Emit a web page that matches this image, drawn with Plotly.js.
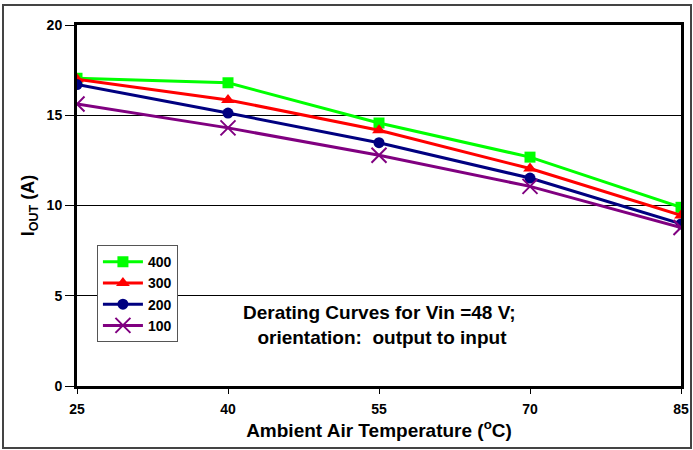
<!DOCTYPE html>
<html><head><meta charset="utf-8">
<script src="https://cdn.plot.ly/plotly-3.0.1.min.js"></script>
<style>
html,body{margin:0;padding:0;background:#fff;}
#wrap{position:relative;width:693px;height:450px;}
#chart{width:693px;height:450px;}
#frame{position:absolute;left:2px;top:4px;width:686px;height:441px;border:2px solid #444;pointer-events:none;}
</style></head>
<body><div id="wrap"><div id="chart"></div><div id="frame"></div></div>
<script>
const temps = [25, 40, 55, 70, 85];
const s400 = [17.05, 16.8, 14.57, 12.68, 9.9];
const s300 = [17.0, 15.85, 14.17, 12.05, 9.45];
const s200 = [16.7, 15.12, 13.48, 11.52, 8.98];
const s100 = [15.62, 14.3, 12.78, 11.06, 8.78];
const seriesNames = ['400', '300', '200', '100'];
const colors = ['#00FF00', '#FF0000', '#000080', '#800080'];
const symbols = ['square', 'triangle-up', 'circle', 'x-thin-open'];
const sizes = [11, 12, 11, 15];
const vals = [s400, s300, s200, s100];

const traces = vals.map((v, i) => ({
  x: temps, y: v, name: seriesNames[i], type: 'scatter', mode: 'lines+markers',
  line: {color: colors[i], width: 3},
  marker: {symbol: symbols[i], size: sizes[i], color: colors[i],
           line: {color: colors[i], width: i === 3 ? 2 : 0}}
}));

const F = 'Arial, "Liberation Sans", sans-serif';
const layout = {
  width: 693, height: 450,
  margin: {l: 77, r: 12, t: 25, b: 64},
  paper_bgcolor: 'rgba(0,0,0,0)', plot_bgcolor: '#fff',
  font: {family: F, size: 14, color: '#000', weight: 'bold'},
  showlegend: true,
  legend: {x: 0.033, y: 0.39, xanchor: 'left', yanchor: 'top',
           bgcolor: '#fff', bordercolor: '#555', borderwidth: 1,
           font: {family: F, size: 14, weight: 'bold'}, itemwidth: 40,
           tracegroupgap: 0},
  xaxis: {range: [25, 85], tickvals: temps, ticks: 'outside', ticklen: 5, tickcolor: '#000',
          ticklabelstandoff: 3,
          showline: true, linewidth: 3, linecolor: '#000', mirror: true,
          showgrid: false, zeroline: false,
          tickfont: {family: F, size: 14, weight: 'bold'},
          title: {text: 'Ambient Air Temperature (<sup>o</sup>C)', standoff: 4,
                  font: {family: F, size: 19, weight: 'bold'}}},
  yaxis: {range: [0, 20], tickvals: [0, 5, 10, 15, 20], ticks: 'outside', ticklen: 9, tickcolor: '#000',
          showline: true, linewidth: 3, linecolor: '#000', mirror: true,
          showgrid: true, gridcolor: '#000', gridwidth: 1, zeroline: false,
          tickfont: {family: F, size: 14, weight: 'bold'},
          title: {text: 'I<sub>OUT</sub> (A)', standoff: 8,
                  font: {family: F, size: 18, weight: 'bold'}}},
  annotations: [{x: 55, y: 3.4, xref: 'x', yref: 'y', showarrow: false,
    text: 'Derating Curves for Vin =48 V;<br> orientation:  output to input',
    font: {family: F, size: 19, weight: 'bold'}, bgcolor: '#fff', align: 'center'}]
};
Plotly.newPlot('chart', traces, layout, {displayModeBar: false, staticPlot: true});
</script></body></html>
